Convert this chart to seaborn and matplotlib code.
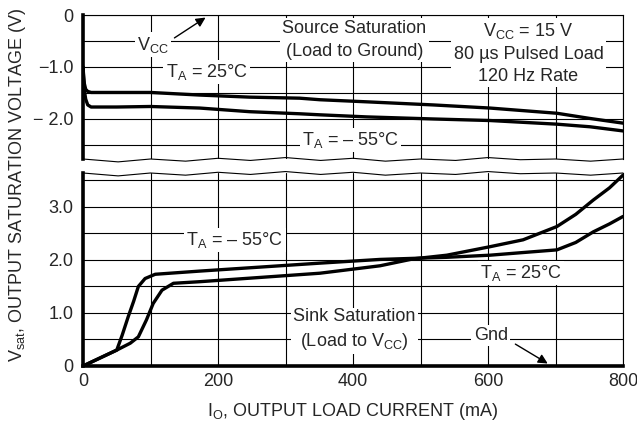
import numpy as np
import pandas as pd
import matplotlib
matplotlib.use("Agg")
import matplotlib.pyplot as plt
import seaborn as sns

# ---------------- data ----------------
# Source saturation (top panel), Vsat in V vs load current in mA
src_25_x = [0, 1, 2, 4, 7, 12, 50, 100, 173, 247, 321, 351, 420, 519, 603, 702, 751, 800]
src_25_y = [-1.0, -1.18, -1.32, -1.43, -1.47, -1.49, -1.49, -1.49, -1.54, -1.58, -1.60, -1.63, -1.67, -1.73, -1.79, -1.89, -1.99, -2.08]
src_m55_x = [0, 1, 2, 4, 7, 12, 50, 100, 173, 247, 321, 351, 420, 519, 603, 702, 751, 800]
src_m55_y = [-1.0, -1.25, -1.45, -1.62, -1.73, -1.77, -1.77, -1.76, -1.79, -1.86, -1.90, -1.92, -1.96, -2.00, -2.03, -2.10, -2.15, -2.23]

# Sink saturation (bottom panel)
snk_m55_x = [0, 50, 58, 67, 75, 82, 92, 107, 173, 351, 440, 489, 539, 603, 652, 702, 730, 756, 780, 800]
snk_m55_y = [0, 0.30, 0.58, 0.93, 1.22, 1.50, 1.65, 1.73, 1.79, 1.94, 2.01, 2.03, 2.05, 2.09, 2.14, 2.19, 2.33, 2.53, 2.68, 2.82]
snk_25_x = [0, 50, 70, 82, 94, 104, 117, 134, 173, 351, 440, 489, 539, 603, 652, 702, 730, 756, 780, 800]
snk_25_y = [0, 0.30, 0.43, 0.55, 0.87, 1.18, 1.43, 1.56, 1.59, 1.75, 1.89, 2.02, 2.09, 2.25, 2.38, 2.63, 2.86, 3.13, 3.36, 3.60]

x_ticks = [0, 200, 400, 600, 800]
x_ticklabels = ["0", "200", "400", "600", "800"]
top_yticks = [0, -1.0, -2.0]
top_yticklabels = ["0", "\u22121.0", "\u2212 2.0"]
bot_yticks = [0, 1.0, 2.0, 3.0]
bot_yticklabels = ["0", "1.0", "2.0", "3.0"]

# ---------------- style ----------------
sns.set_theme(style="white")
plt.rcParams["font.family"] = ["Liberation Sans", "DejaVu Sans"]
plt.rcParams["mathtext.fontset"] = "custom"
plt.rcParams["mathtext.rm"] = "Liberation Sans"
plt.rcParams["mathtext.it"] = "Liberation Sans"
plt.rcParams["mathtext.default"] = "regular"

W, H = 637, 437
fig = plt.figure(figsize=(W / 100, H / 100), dpi=100)
fig.patch.set_facecolor("white")

ax_t = fig.add_axes([83 / W, 1 - 159 / H, 540 / W, 144 / H])
ax_b = fig.add_axes([83 / W, 1 - 366 / H, 540 / W, 193 / H])

df_top = pd.concat([
    pd.DataFrame({"I": src_25_x, "V": src_25_y, "T": "25"}),
    pd.DataFrame({"I": src_m55_x, "V": src_m55_y, "T": "-55"}),
])
df_bot = pd.concat([
    pd.DataFrame({"I": snk_m55_x, "V": snk_m55_y, "T": "-55"}),
    pd.DataFrame({"I": snk_25_x, "V": snk_25_y, "T": "25"}),
])

pal = {"25": "black", "-55": "black"}
sns.lineplot(data=df_top, x="I", y="V", hue="T", palette=pal, ax=ax_t,
             linewidth=2.4, legend=False, sort=False, estimator=None, zorder=5)
sns.lineplot(data=df_bot, x="I", y="V", hue="T", palette=pal, ax=ax_b,
             linewidth=2.4, legend=False, sort=False, estimator=None, zorder=5)

fs = 13
for ax in (ax_t, ax_b):
    ax.set_xlim(0, 800)
    ax.set_xticks(np.arange(0, 801, 100), minor=True)
    ax.grid(True, which="both", color="black", linewidth=0.8)
    ax.set_axisbelow(True)
    ax.set_xlabel("")
    ax.set_ylabel("")
    ax.tick_params(which="both", length=0)
    for s in ax.spines.values():
        s.set_color("black")
        s.set_linewidth(0.8)
    ax.spines["left"].set_linewidth(2.6)

ax_t.set_ylim(-2.77, 0)
ax_t.set_yticks(np.arange(-2.5, 0.01, 0.5), minor=True)
ax_t.set_yticks(top_yticks)
ax_t.set_yticklabels(top_yticklabels, fontsize=fs)
ax_t.set_xticks(x_ticks)
ax_t.set_xticklabels([])
ax_t.spines["bottom"].set_visible(False)
ax_t.tick_params(axis="y", pad=7)

ax_b.set_ylim(0, 3.64)
ax_b.set_yticks(np.arange(0, 3.6, 0.5), minor=True)
ax_b.set_yticks(bot_yticks)
ax_b.set_yticklabels(bot_yticklabels, fontsize=fs)
ax_b.set_xticks(x_ticks)
ax_b.set_xticklabels(x_ticklabels, fontsize=fs)
ax_b.spines["top"].set_visible(False)
ax_b.spines["bottom"].set_linewidth(2.6)
ax_b.tick_params(axis="y", pad=7)
ax_b.tick_params(axis="x", pad=5)

# break (zig-zag) lines
zx = [0, 0.065, 0.125, 0.19, 0.25, 0.31, 0.375, 0.44, 0.5, 0.56, 0.625, 0.69, 0.75, 0.81, 0.875, 0.94, 1.0]
zt = [0.0, -0.02, 0.0, -0.015, 0.005, -0.01, 0.01, -0.01, 0.005, -0.015, 0.0, -0.01, 0.01, -0.005, 0.0, -0.015, 0.0]
ax_t.plot(zx, [0.0 + v for v in zt], transform=ax_t.transAxes, color="black", lw=0.8, clip_on=False)
ax_b.plot(zx, [1.0 + v * 0.75 for v in zt], transform=ax_b.transAxes, color="black", lw=0.8, clip_on=False)

box = dict(facecolor="white", edgecolor="none", pad=1.5)
LS = 1.4
# top panel annotations
ax_t.text(104, -0.57, r"V$_{CC}$", fontsize=fs, ha="center", va="center", bbox=box, zorder=6)
ax_t.annotate("", xy=(185, -0.02), xytext=(132, -0.47),
              arrowprops=dict(arrowstyle="-|>", color="black", lw=1.0, mutation_scale=14), zorder=6)
ax_t.text(183, -1.10, r"T$_{A}$ = 25°C", fontsize=fs, ha="center", va="center", bbox=box, zorder=6)
ax_t.text(402, -0.48, "Source Saturation\n(Load to Ground)", fontsize=fs, ha="center", va="center",
          linespacing=LS, bbox=box, zorder=6)
ax_t.text(660, -0.73, "V$_{CC}$ = 15 V\n80 µs Pulsed Load\n120 Hz Rate", fontsize=fs, ha="center",
          va="center", linespacing=LS, bbox=box, zorder=6)
ax_t.text(396, -2.40, r"T$_{A}$ = – 55°C", fontsize=fs, ha="center", va="center", bbox=box, zorder=6)

# bottom panel annotations
ax_b.text(225, 2.38, r"T$_{A}$ = – 55°C", fontsize=fs, ha="center", va="center", bbox=box, zorder=6)
ax_b.text(649, 1.75, r"T$_{A}$ = 25°C", fontsize=fs, ha="center", va="center", bbox=box, zorder=6)
ax_b.text(402, 0.68, "Sink Saturation\n(Load to V$_{CC}$)", fontsize=fs, ha="center", va="center",
          linespacing=LS, bbox=box, zorder=6)
ax_b.text(604, 0.58, "Gnd", fontsize=fs, ha="center", va="center", bbox=box, zorder=6)
ax_b.annotate("", xy=(692, 0.02), xytext=(637, 0.44),
              arrowprops=dict(arrowstyle="-|>", color="black", lw=1.0, mutation_scale=14), zorder=6)

fig.text(353 / W, 1 - 412 / H, r"I$_{O}$, OUTPUT LOAD CURRENT (mA)", fontsize=fs,
         ha="center", va="center")
fig.text(18 / W, 1 - 185 / H, r"V$_{sat}$, OUTPUT SATURATION VOLTAGE (V)", fontsize=fs,
         ha="center", va="center", rotation=90)

fig.savefig("out.png", dpi=100, facecolor="white")
